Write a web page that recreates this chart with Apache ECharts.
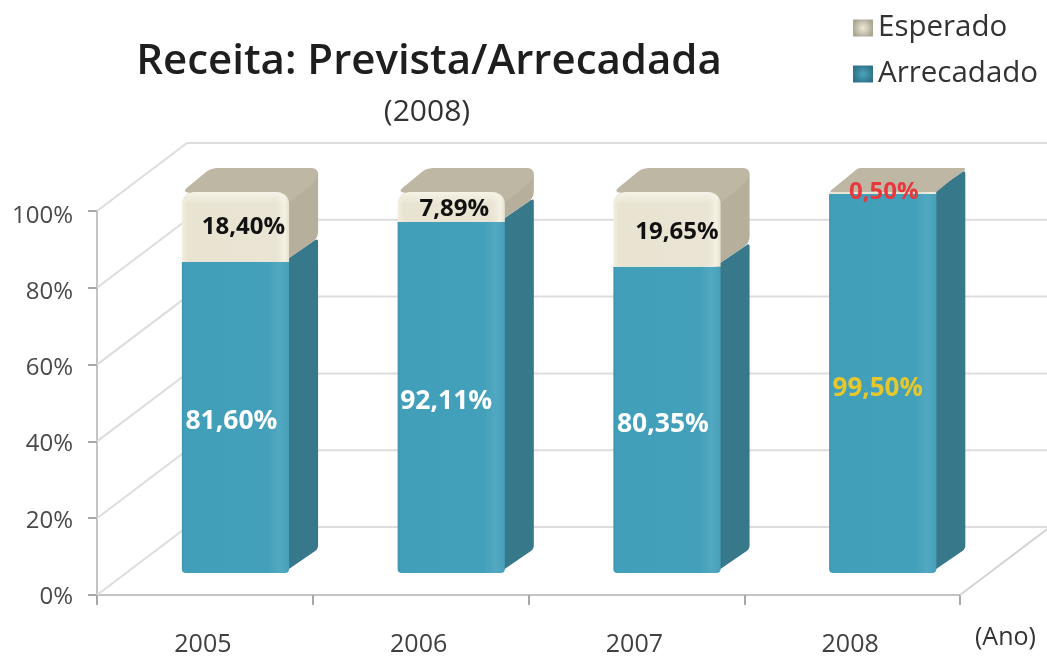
<!DOCTYPE html>
<html>
<head>
<meta charset="utf-8">
<title>Receita: Prevista/Arrecadada</title>
<script src="https://cdn.jsdelivr.net/npm/echarts@6/dist/echarts.min.js"></script>
<style>
  html, body { margin: 0; padding: 0; background: #fff; }
  #chart { width: 1047px; height: 659px; }
</style>
</head>
<body>
<div id="chart"></div>
<script>
// valores
var anos = ['2005', '2006', '2007', '2008'];
var arrecadado = [81.60, 92.11, 80.35, 99.50];
var esperado = [18.40, 7.89, 19.65, 0.50];
var rotulosArrecadado = ['81,60%', '92,11%', '80,35%', '99,50%'];
var rotulosEsperado = ['18,40%', '7,89%', '19,65%', '0,50%'];
var marcasY = [0, 20, 40, 60, 80, 100];

// profundidade do "3D"
var PAREDE = [90, -68];
var BARRA = [29, -24];
// deslocamento dos rotulos em relacao ao centro da face
var ajusteArrecadado = [[-4, 4], [-5, 4], [-4, 5], [-5, 5]];
var ajusteEsperado = [[8, 0], [3, 2], [10, 3], [1, -1]];

var fonte = '"Open Sans", sans-serif';

function gradH(stops) {
  return new echarts.graphic.LinearGradient(0, 0, 1, 0, stops);
}

function gradLegenda(centro, borda) {
  return new echarts.graphic.RadialGradient(0.5, 0.5, 0.6, [
    { offset: 0, color: centro },
    { offset: 1, color: borda }
  ]);
}

// arredonda os cantos de um poligono (amostra uma curva em cada canto)
function arredonda(pts, r) {
  var out = [];
  var n = pts.length;
  for (var i = 0; i < n; i++) {
    var p = pts[i], a = pts[(i + n - 1) % n], b = pts[(i + 1) % n];
    var la = Math.hypot(a[0] - p[0], a[1] - p[1]), lb = Math.hypot(b[0] - p[0], b[1] - p[1]);
    var ra = Math.min(r, la / 2), rb = Math.min(r, lb / 2);
    var s = [p[0] + (a[0] - p[0]) * ra / la, p[1] + (a[1] - p[1]) * ra / la];
    var e = [p[0] + (b[0] - p[0]) * rb / lb, p[1] + (b[1] - p[1]) * rb / lb];
    for (var t = 0; t <= 1.001; t += 0.2) {
      out.push([
        (1 - t) * (1 - t) * s[0] + 2 * t * (1 - t) * p[0] + t * t * e[0],
        (1 - t) * (1 - t) * s[1] + 2 * t * (1 - t) * p[1] + t * t * e[1]
      ]);
    }
  }
  return out;
}

function renderParede(params, api) {
  var v = api.value(1);
  var cs = params.coordSys;
  var y = api.coord([0, v])[1];
  var x0 = cs.x, x1 = cs.x + cs.width;
  var children = [{
    type: 'polyline',
    shape: { points: [[x0, y], [x0 + PAREDE[0], y + PAREDE[1]], [x1 + PAREDE[0], y + PAREDE[1]]] },
    style: { stroke: '#dddddd', lineWidth: 2, fill: null }
  }];
  if (v === 0) {
    children.push({
      type: 'line',
      shape: { x1: x1, y1: y, x2: x1 + PAREDE[0], y2: y + PAREDE[1] },
      style: { stroke: '#d4d4d4', lineWidth: 2 }
    });
  }
  return { type: 'group', silent: true, children: children };
}

function renderBarra(cores, rotulos, ajustes, corTexto, tamTexto, raio) {
  return function (params, api) {
    var i = api.value(0);
    var base = api.coord([i, api.value(1)]);
    var topo = api.coord([i, api.value(2)]);
    var w = api.size([1, 0])[0] * 0.497;
    var x0 = base[0] - w / 2, x1 = base[0] + w / 2;
    var h = base[1] - topo[1];
    var dx = BARRA[0], dy = BARRA[1];
    var r = Math.min(raio[0], h / 2);
    var rTopo = h > 8 ? 7 : 3;
    var filhos = [
      {
        type: 'polygon',
        shape: { points: arredonda([[x1 - 6, topo[1]], [x1 + dx, topo[1] + dy], [x1 + dx, base[1] + dy], [x1 - 6, base[1]]], cores.topo ? rTopo : 4) },
        style: { fill: cores.lado }
      }
    ];
    if (cores.topo) {
      filhos.push({
        type: 'polygon',
        shape: { points: arredonda([[x0, topo[1]], [x0 + dx, topo[1] + dy], [x1 + dx, topo[1] + dy], [x1 + dx - 1, topo[1] + dy + r], [x1 - 1, topo[1] + r]], rTopo) },
        style: { fill: cores.topo }
      });
    }
    filhos.push({
      type: 'rect',
      shape: { x: x0, y: topo[1], width: w, height: h, r: [r, r, raio[1], raio[1]] },
      style: { fill: gradH(cores.frente) }
    });
    if (cores.brilho && h > 8) {
      filhos.push({
        type: 'rect',
        shape: { x: x0 + 2, y: topo[1], width: w - 4, height: 12, r: [r, r, 0, 0] },
        style: {
          fill: new echarts.graphic.LinearGradient(0, 0, 0, 1, [
            { offset: 0, color: cores.brilho },
            { offset: 1, color: 'rgba(245,242,228,0)' }
          ])
        }
      });
    }
    var aj = ajustes[i];
    filhos.push({
      type: 'text',
      z2: 10,
      style: {
        text: rotulos[i],
        x: base[0] + aj[0],
        y: (base[1] + topo[1]) / 2 + aj[1],
        align: 'center',
        verticalAlign: 'middle',
        fill: corTexto[i],
        font: 'bold ' + tamTexto[i] + 'px ' + fonte
      }
    });
    return { type: 'group', children: filhos };
  };
}

var chart = echarts.init(document.getElementById('chart'), null, { renderer: 'canvas' });

chart.setOption({
  animation: false,
  backgroundColor: '#ffffff',
  title: [
    {
      text: 'Receita: Prevista/Arrecadada',
      left: 424, top: 36, textAlign: 'center',
      textStyle: { fontFamily: fonte, fontSize: 42, fontWeight: 600, color: '#1e1e1e' }
    },
    {
      text: '(2008)',
      left: 422, top: 92, textAlign: 'center',
      textStyle: { fontFamily: fonte, fontSize: 30, fontWeight: 400, color: '#333333' }
    }
  ],
  legend: {
    orient: 'vertical',
    left: 848, top: 3,
    icon: 'rect',
    itemWidth: 20, itemHeight: 17, itemGap: 6,
    selectedMode: false,
    data: ['Esperado', 'Arrecadado'],
    textStyle: { fontFamily: fonte, fontSize: 29.5, color: '#333333', lineHeight: 40 }
  },
  grid: [
    { left: 97, right: 87, top: 211, bottom: 64 },
    { left: 127.6, right: 56.4, top: 192, bottom: 86 },
    // so para os rotulos do eixo y, um pouco abaixo das marcas
    { left: 97, right: 87, top: 216, bottom: 62 }
  ],
  xAxis: [
    {
      gridIndex: 0, type: 'category', data: anos,
      axisLine: { lineStyle: { color: '#c4c4c4', width: 2 } },
      axisTick: { show: true, alignWithLabel: false, length: 10, lineStyle: { color: '#a8a8a8', width: 2 } },
      axisLabel: { margin: 37, padding: [0, 4, 0, 0], fontFamily: fonte, fontSize: 25, color: '#404040' }
    },
    { gridIndex: 1, type: 'category', data: anos, show: false },
    { gridIndex: 2, type: 'category', data: anos, show: false }
  ],
  yAxis: [
    {
      gridIndex: 0, type: 'value', min: 0, max: 100, interval: 20,
      axisLine: { show: true, lineStyle: { color: '#c4c4c4', width: 2 } },
      axisTick: { show: true, length: 9, lineStyle: { color: '#a8a8a8', width: 2 } },
      splitLine: { show: false },
      axisLabel: { show: false }
    },
    { gridIndex: 1, type: 'value', min: 0, max: 100, show: false, splitLine: { show: false } },
    {
      gridIndex: 2, type: 'value', min: 0, max: 100, interval: 20,
      axisLine: { show: false },
      axisTick: { show: false },
      splitLine: { show: false },
      axisLabel: { margin: 24, formatter: '{value}%', fontFamily: fonte, fontSize: 24, color: '#4a4a4a' }
    }
  ],
  graphic: [
    {
      type: 'text', left: 975, top: 625, silent: true,
      style: { text: '(Ano)', font: '500 25px ' + fonte, fill: '#333333' }
    }
  ],
  series: [
    {
      name: 'parede',
      type: 'custom',
      xAxisIndex: 0, yAxisIndex: 0,
      z: 1,
      clip: false,
      renderItem: renderParede,
      data: marcasY.map(function (v) { return [0, v]; })
    },
    {
      name: 'Arrecadado',
      type: 'custom',
      xAxisIndex: 1, yAxisIndex: 1,
      z: 3,
      clip: false,
      itemStyle: { color: gradLegenda('#4aa3bb', '#2f7388') },
      renderItem: renderBarra(
        {
          frente: [
            { offset: 0, color: '#3c97b1' },
            { offset: 0.03, color: '#429fb9' },
            { offset: 0.8, color: '#43a0ba' },
            { offset: 0.92, color: '#52a8c1' },
            { offset: 1, color: '#469fb8' }
          ],
          lado: '#38788b'
        },
        rotulosArrecadado, ajusteArrecadado,
        ['#ffffff', '#ffffff', '#ffffff', '#e6c82e'],
        [26.5, 26.5, 26.5, 26],
        [0, 4]
      ),
      data: arrecadado.map(function (v, i) { return [i, 0, v]; })
    },
    {
      name: 'Esperado',
      type: 'custom',
      xAxisIndex: 1, yAxisIndex: 1,
      z: 4,
      clip: false,
      itemStyle: { color: gradLegenda('#eeead8', '#a9a692') },
      renderItem: renderBarra(
        {
          frente: [
            { offset: 0, color: '#f3efe0' },
            { offset: 0.05, color: '#e9e4d2' },
            { offset: 0.88, color: '#e9e4d3' },
            { offset: 0.96, color: '#f4f1e3' },
            { offset: 1, color: '#e6e1cf' }
          ],
          lado: '#b6af9c',
          topo: '#beb7a4',
          brilho: 'rgba(247,244,232,1)'
        },
        rotulosEsperado, ajusteEsperado,
        ['#111111', '#111111', '#111111', '#e8383c'],
        [24, 24, 24, 24],
        [12, 0]
      ),
      data: esperado.map(function (v, i) { return [i, arrecadado[i], arrecadado[i] + v]; })
    }
  ]
});
</script>
</body>
</html>
